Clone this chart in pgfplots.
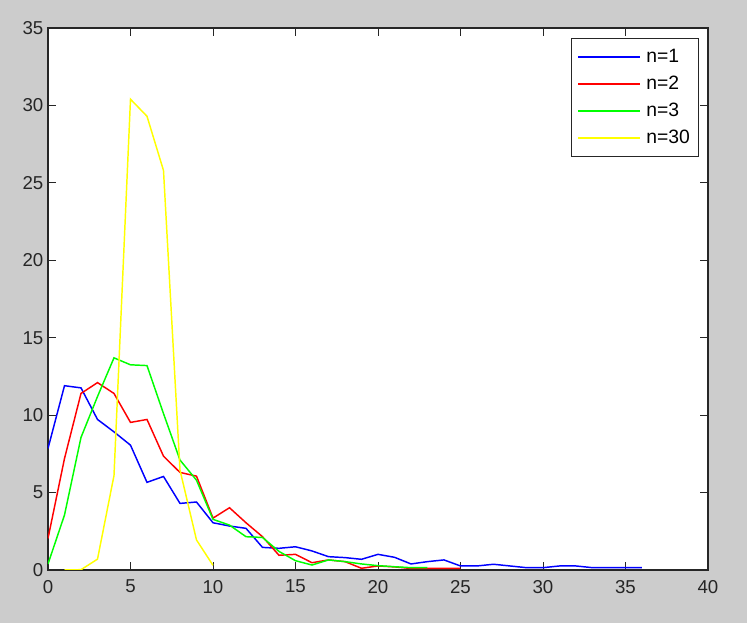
\documentclass[border=0pt]{standalone}
\usepackage{pgfplots}
\pgfplotsset{compat=1.18}
\usepackage{fontspec}
\setmainfont{Liberation Sans}
\definecolor{figbg}{RGB}{204,204,204}
\definecolor{mblue}{RGB}{0,0,255}
\definecolor{mred}{RGB}{255,0,0}
\definecolor{mgreen}{RGB}{0,255,0}
\definecolor{myellow}{RGB}{255,255,0}
\definecolor{ticktext}{RGB}{38,38,38}
\begin{document}
\begin{tikzpicture}
\fill[figbg] (0,0) rectangle (560.25pt,467.25pt);
\begin{axis}[
  at={(36pt,39.75pt)}, anchor=south west,
  scale only axis, width=495pt, height=406.5pt,
  xmin=0, xmax=40, ymin=0, ymax=35,
  xtick={0,5,...,40}, ytick={0,5,...,35},
  tick align=inside, major tick length=6pt,
  axis background/.style={fill=white},
  axis line style={black!85, line width=1pt},
  tick style={black!85, line width=0.7pt},
  /pgf/number format/assume math mode=true,
  tick label style={font=\fontsize{14}{16}\selectfont, text=ticktext},
  xticklabel style={yshift=-4pt},
  legend style={at={(0.9868,0.981)}, anchor=north east, draw=black!85, line width=0.9pt, fill=white,
    font=\fontsize{14.5}{17}\selectfont, row sep=4.6pt, column sep=2pt, inner xsep=4.6pt, inner ysep=6pt,
    nodes={inner xsep=2pt}},
  legend cell align=left,
  legend image code/.code={\path (-2.4pt,0pt) -- (0pt,0pt);\draw[line width=1.4pt, #1] (0pt,0pt) -- (44pt,0pt);},
  every axis plot/.append style={line width=1.1pt},
]
\addplot[color=mblue] coordinates {
(0,7.85) (1,11.9) (2,11.76) (3,9.72) (4,8.92) (5,8.06) (6,5.66) (7,6.04) (8,4.3) (9,4.39)
(10,3.05) (11,2.84) (12,2.69) (13,1.46) (14,1.4) (15,1.5) (16,1.23) (17,0.86) (18,0.8) (19,0.69)
(20,1.01) (21,0.82) (22,0.39) (23,0.54) (24,0.65) (25,0.26) (26,0.26) (27,0.37) (28,0.26) (29,0.15)
(30,0.15) (31,0.26) (32,0.26) (33,0.15) (34,0.15) (35,0.15) (36,0.15)};
\addlegendentry{n=1}
\addplot[color=mred] coordinates {
(0,2.04) (1,7.2) (2,11.4) (3,12.1) (4,11.4) (5,9.53) (6,9.72) (7,7.35) (8,6.3) (9,6.06)
(10,3.35) (11,4.02) (12,3.05) (13,2.15) (14,0.95) (15,1.01) (16,0.47) (17,0.65) (18,0.54) (19,0.11)
(20,0.26) (21,0.2) (22,0.1) (23,0.1) (24,0.1) (25,0.1)};
\addlegendentry{n=2}
\addplot[color=mgreen] coordinates {
(0,0.39) (1,3.55) (2,8.56) (3,11.2) (4,13.7) (5,13.25) (6,13.2) (7,10.1) (8,7.1) (9,5.8)
(10,3.27) (11,2.9) (12,2.15) (13,2.1) (14,1.2) (15,0.6) (16,0.32) (17,0.65) (18,0.54) (19,0.39)
(20,0.28) (21,0.21) (22,0.15) (23,0.15)};
\addlegendentry{n=3}
\addplot[color=myellow] coordinates {
(1,0) (2,0.02) (3,0.7) (4,6.1) (5,30.4) (6,29.3) (7,25.8) (8,6.45) (9,1.94) (10,0.3)};
\addlegendentry{n=30}
\end{axis}
\end{tikzpicture}
\end{document}
